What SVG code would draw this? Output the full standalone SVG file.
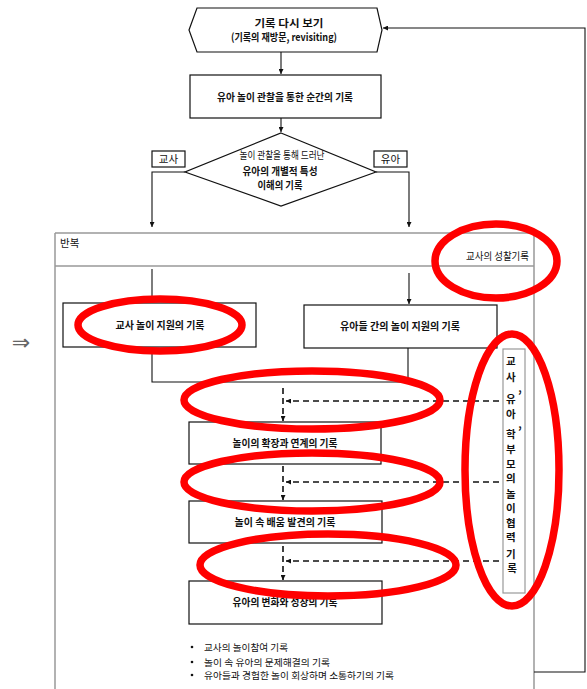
<svg xmlns="http://www.w3.org/2000/svg" width="587" height="689" viewBox="0 0 587 689">
<defs>
<marker id="ah" viewBox="0 0 6 6" refX="6" refY="3" markerWidth="5" markerHeight="5" markerUnits="userSpaceOnUse" orient="auto"><path d="M0,0 L6,3 L0,6 z" fill="#111"/></marker>
<style>
.t{font-family:"Noto Sans CJK KR","Noto Sans",sans-serif;fill:#111;text-anchor:middle;font-size:10.5px;font-weight:bold}
.tl{text-anchor:start}
.tn{font-weight:normal}
.box{fill:#fff;stroke:#111;stroke-width:1.2}
.gray{fill:none;stroke:#999;stroke-width:1.5}
.ln{fill:none;stroke:#111;stroke-width:1.1}
.ds{fill:none;stroke:#111;stroke-width:1.6;stroke-dasharray:6 4}
.red{fill:none;stroke:#f00;stroke-width:7.5}
.bl{font-size:9.5px}
</style>
</defs>
<rect width="587" height="689" fill="#fff"/>

<g id="frame">
<line class="gray" x1="55" y1="233" x2="55" y2="689"/>
<line class="gray" x1="55" y1="233" x2="534" y2="233"/>
<line class="gray" x1="55" y1="266" x2="534" y2="266"/>
<line class="gray" x1="534" y1="233" x2="534" y2="689"/>
<text class="t tl tn" x="60" y="247">반복</text>
<text class="t tn" x="529" y="260" style="text-anchor:end" textLength="63" lengthAdjust="spacingAndGlyphs">교사의 성찰기록</text>
</g>

<g id="connectors">
<line class="ln" x1="281" y1="52" x2="281" y2="74" marker-end="url(#ah)"/>
<line class="ln" x1="281" y1="118" x2="281" y2="132" marker-end="url(#ah)"/>
<polyline class="ln" points="185,172 152,172 152,227" marker-end="url(#ah)"/>
<polyline class="ln" points="376,172 409,172 409,227" marker-end="url(#ah)"/>
<line class="ln" x1="152" y1="269" x2="152" y2="302" marker-end="url(#ah)"/>
<line class="ln" x1="409" y1="273" x2="409" y2="304" marker-end="url(#ah)"/>
<polyline class="ln" points="152,347 152,382 408,382 408,348"/>
<line class="ds" x1="283" y1="388" x2="283" y2="421" marker-end="url(#ah)"/>
<line class="ds" x1="499" y1="401" x2="286" y2="401" marker-end="url(#ah)"/>
<line class="ds" x1="283" y1="466" x2="283" y2="500" marker-end="url(#ah)"/>
<line class="ds" x1="499" y1="482" x2="286" y2="482" marker-end="url(#ah)"/>
<line class="ds" x1="283" y1="546" x2="283" y2="580" marker-end="url(#ah)"/>
<line class="ds" x1="499" y1="561" x2="286" y2="561" marker-end="url(#ah)"/>
<polyline class="ln" points="534,672 585,672 585,28 383,28" marker-end="url(#ah)"/>
</g>

<g id="revisit">
<polygon class="box" points="189,30 197,8 377,8 382,30 377,52 197,52"/>
<text class="t" x="289" y="27" textLength="69" lengthAdjust="spacingAndGlyphs">기록 다시 보기</text>
<text class="t" x="284" y="41" textLength="106" lengthAdjust="spacingAndGlyphs">(기록의 재방문, revisiting)</text>
</g>

<g id="observe">
<rect class="box" x="190" y="75" width="191" height="43"/>
<text class="t" x="285" y="101" textLength="136" lengthAdjust="spacingAndGlyphs">유아 놀이 관찰을 통한 순간의 기록</text>
</g>

<g id="decision">
<polygon class="box" points="281,133 376,172 281,206 185,172"/>
<text class="t tn" x="282" y="159" font-size="9" textLength="85" lengthAdjust="spacingAndGlyphs">놀이 관찰을 통해 드러난</text>
<text class="t" x="280" y="175" font-size="12" textLength="75" lengthAdjust="spacingAndGlyphs">유아의 개별적 특성</text>
<text class="t" x="280" y="189" font-size="11.5" textLength="45" lengthAdjust="spacingAndGlyphs">이해의 기록</text>
</g>

<g id="teacher-label">
<rect class="box" x="152" y="151" width="33" height="16"/>
<text class="t tn" x="168.5" y="163" font-size="9.5">교사</text>
</g>
<g id="child-label">
<rect class="box" x="374" y="151" width="33" height="16"/>
<text class="t tn" x="390.5" y="163" font-size="9.5">유아</text>
</g>

<g id="teacher-support">
<rect class="box" x="63" y="303" width="193" height="44"/>
<text class="t" x="160" y="329" textLength="89" lengthAdjust="spacingAndGlyphs">교사 놀이 지원의 기록</text>
</g>

<g id="peer-support">
<rect class="box" x="304" y="305" width="193" height="43"/>
<text class="t" x="400" y="330" textLength="120" lengthAdjust="spacingAndGlyphs">유아들 간의 놀이 지원의 기록</text>
</g>

<g id="extension">
<rect class="box" x="189" y="422" width="192" height="42"/>
<text class="t" x="285" y="447" textLength="105" lengthAdjust="spacingAndGlyphs">놀이의 확장과 연계의 기록</text>
</g>

<g id="learning">
<rect class="box" x="189" y="501" width="193" height="42"/>
<text class="t" x="285" y="526" textLength="101" lengthAdjust="spacingAndGlyphs">놀이 속 배움 발견의 기록</text>
</g>

<g id="growth">
<rect class="box" x="189" y="581" width="193" height="43"/>
<text class="t" x="285" y="606" textLength="105" lengthAdjust="spacingAndGlyphs">유아의 변화와 성장의 기록</text>
</g>

<g id="bullets">
<circle cx="192" cy="647" r="1.3" fill="#111"/>
<circle cx="192" cy="662" r="1.3" fill="#111"/>
<circle cx="192" cy="675" r="1.3" fill="#111"/>
<text class="t tl tn bl" x="204" y="651" textLength="84" lengthAdjust="spacingAndGlyphs">교사의 놀이참여 기록</text>
<text class="t tl tn bl" x="204" y="665.5" textLength="126" lengthAdjust="spacingAndGlyphs">놀이 속 유아의 문제해결의 기록</text>
<text class="t tl tn bl" x="204" y="679" textLength="190" lengthAdjust="spacingAndGlyphs">유아들과 경험한 놀이 회상하며 소통하기의 기록</text>
</g>

<g id="collab">
<rect x="503" y="349" width="22" height="244" fill="#fff" stroke="#999" stroke-width="1.2"/>
<text class="t" font-size="11">
<tspan x="512" y="365">교</tspan>
<tspan x="512" y="381">사</tspan>
<tspan x="512" y="403">유</tspan>
<tspan x="512" y="418">아</tspan>
<tspan x="512" y="438">학</tspan>
<tspan x="512" y="453">부</tspan>
<tspan x="512" y="468">모</tspan>
<tspan x="512" y="482">의</tspan>
<tspan x="512" y="498">놀</tspan>
<tspan x="512" y="512">이</tspan>
<tspan x="512" y="527">협</tspan>
<tspan x="512" y="541">력</tspan>
<tspan x="512" y="558">기</tspan>
<tspan x="512" y="572">록</tspan>
</text>
<text class="t" font-size="10" x="520" y="392">,</text>
<text class="t" font-size="10" x="520" y="428">,</text>
</g>

<g id="arrow-symbol">
<text x="21" y="350" font-family="DejaVu Sans, sans-serif" font-size="22" fill="#666" text-anchor="middle">⇒</text>
</g>

<g id="highlights">
<ellipse class="red" cx="496" cy="261" rx="61" ry="37"/>
<ellipse class="red" cx="160" cy="325" rx="82" ry="26"/>
<ellipse class="red" cx="312" cy="400" rx="128" ry="29"/>
<ellipse class="red" cx="312" cy="482" rx="128" ry="29"/>
<ellipse class="red" cx="328" cy="565" rx="128" ry="31"/>
<ellipse class="red" cx="512" cy="470" rx="47" ry="136"/>
</g>
</svg>
